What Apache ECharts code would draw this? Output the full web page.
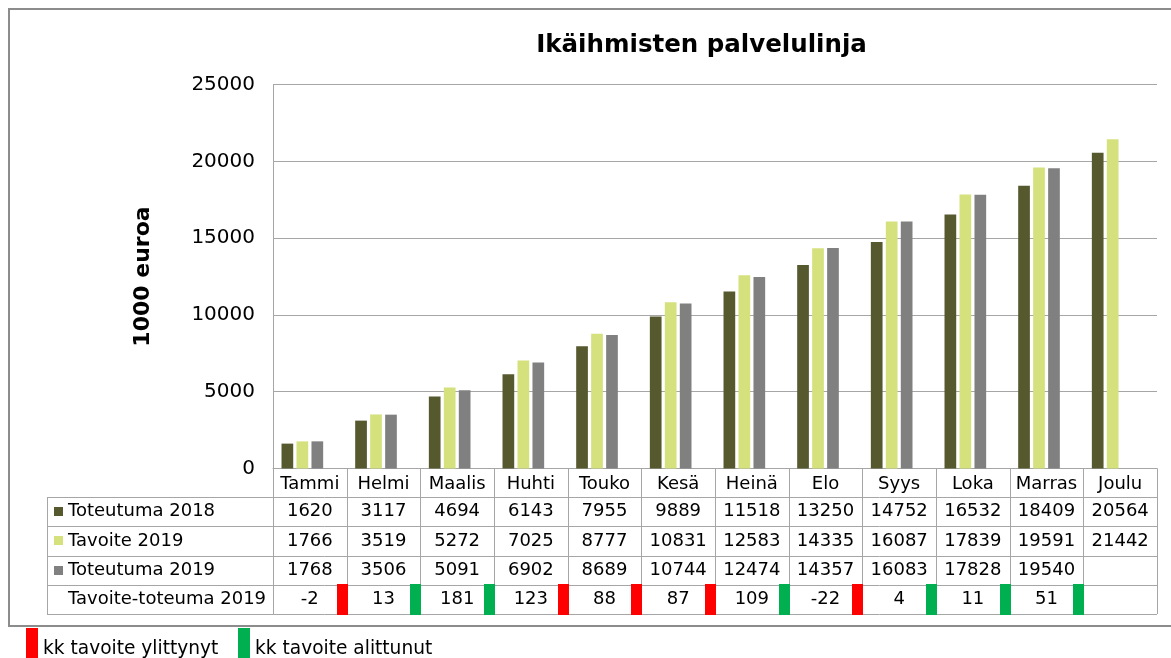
<!DOCTYPE html>
<html><head><meta charset="utf-8">
<script src="https://cdn.jsdelivr.net/npm/echarts@6/dist/echarts.min.js"></script>
<style>html,body{margin:0;padding:0;background:#fff}#c{width:1171px;height:658px}</style>
</head><body><div id="c"></div>
<script>
const chartTitle = 'Ikäihmisten palvelulinja';
const yAxisName = '1000 euroa';
const categories = ['Tammi','Helmi','Maalis','Huhti','Touko','Kesä','Heinä','Elo','Syys','Loka','Marras','Joulu'];
const seriesNames = ['Toteutuma 2018','Tavoite 2019','Toteutuma 2019','Tavoite-toteuma 2019'];
const toteutuma2018 = [1620,3117,4694,6143,7955,9889,11518,13250,14752,16532,18409,20564];
const tavoite2019 = [1766,3519,5272,7025,8777,10831,12583,14335,16087,17839,19591,21442];
const toteutuma2019 = [1768,3506,5091,6902,8689,10744,12474,14357,16083,17828,19540,null];
const erotus2019 = [-2,13,181,123,88,87,109,-22,4,11,51,null];
const tilanne = ['ylittynyt','alittunut','alittunut','ylittynyt','ylittynyt','ylittynyt','alittunut','ylittynyt','alittunut','alittunut','alittunut',null];
const yTicks = [0,5000,10000,15000,20000,25000];
const statusLabels = {ylittynyt: 'kk tavoite ylittynyt', alittunut: 'kk tavoite alittunut'};

const FONT = '"DejaVu Sans", Verdana, sans-serif';
const seriesColors = ['#56582E', '#D4E17D', '#808080', 'rgba(0,0,0,0)'];
const statusColors = {ylittynyt: '#FF0000', alittunut: '#00B050'};
const lineColor = '#A6A6A6';
const seriesData = [toteutuma2018, tavoite2019, toteutuma2019, erotus2019];

const chart = echarts.init(document.getElementById('c'), null, {renderer: 'canvas'});
const option = {
  animation: false,
  backgroundColor: '#fff',
  textStyle: {fontFamily: FONT},
  grid: {left: 273, right: 14, top: 84.5, bottom: 189.5, containLabel: false},
  xAxis: {
    type: 'category', data: categories,
    axisLine: {show: true, lineStyle: {color: lineColor, width: 1}},
    axisTick: {show: false},
    axisLabel: {interval: 0, fontSize: 18, color: '#000', margin: 7, fontFamily: FONT},
    splitLine: {show: false}
  },
  yAxis: {
    type: 'value', min: yTicks[0], max: yTicks[yTicks.length-1], interval: yTicks[1]-yTicks[0],
    name: yAxisName, nameLocation: 'middle', nameRotate: 90, nameGap: 119,
    nameTextStyle: {fontSize: 22, fontWeight: 'bold', color: '#000', fontFamily: FONT},
    axisLine: {show: true, lineStyle: {color: lineColor, width: 1}},
    axisTick: {show: false},
    axisLabel: {fontSize: 20, color: '#000', margin: 18, fontFamily: FONT, formatter: v => String(v)},
    splitLine: {show: true, lineStyle: {color: lineColor, width: 1}}
  },
  series: seriesNames.map((n, k) => ({
    name: n, type: 'bar', data: seriesData[k],
    barWidth: 11.7, barGap: '28%',
    itemStyle: {color: seriesColors[k]},
    silent: k === 3
  }))
};
chart.setOption(option);

// Build the data table under the category axis using the axis scale
const x0 = chart.convertToPixel({xAxisIndex: 0}, 0);
const x1 = chart.convertToPixel({xAxisIndex: 0}, 1);
const bw = x1 - x0;
const L = x0 - bw / 2;
const R = L + categories.length * bw;
const yZero = chart.convertToPixel({yAxisIndex: 0}, 0);
const tableLeft = 47;
const headerBottom = yZero + 28.5;
const rowH = 29.25;
const tableBottom = headerBottom + rowH * seriesNames.length;
const crisp = v => Math.round(v) + 0.5;

const g = [];
g.push({type: 'text', x: 701.5, y: 45.5, style: {text: chartTitle, font: 'bold 24.5px ' + FONT, fill: '#000', align: 'center', verticalAlign: 'middle'}});
// outer frame
g.push({type: 'rect', shape: {x: 9, y: 9, width: 1200, height: 617}, style: {fill: 'none', stroke: '#8C8C8C', lineWidth: 2}, z: 0});
// horizontal lines
for (let r = 0; r <= seriesNames.length; r++) {
  const y = crisp(headerBottom + r * rowH);
  g.push({type: 'line', shape: {x1: tableLeft, y1: y, x2: R, y2: y}, style: {stroke: lineColor, lineWidth: 1}});
}
// vertical lines
g.push({type: 'line', shape: {x1: crisp(tableLeft), y1: headerBottom, x2: crisp(tableLeft), y2: tableBottom}, style: {stroke: lineColor, lineWidth: 1}});
for (let i = 0; i <= categories.length; i++) {
  const x = crisp(L + i * bw);
  g.push({type: 'line', shape: {x1: x, y1: yZero, x2: x, y2: tableBottom}, style: {stroke: lineColor, lineWidth: 1}});
}
// row headers and values
seriesNames.forEach((n, r) => {
  const cy = headerBottom + r * rowH + rowH / 2;
  if (r < 3) {
    g.push({type: 'rect', shape: {x: 54, y: Math.round(cy - 4.5), width: 9, height: 9}, style: {fill: seriesColors[r]}});
  }
  g.push({type: 'text', x: 68, y: cy, style: {text: n, font: '18px ' + FONT, fill: '#000', align: 'left', verticalAlign: 'middle'}});
  seriesData[r].forEach((v, i) => {
    if (v === null || v === undefined) return;
    const cx = chart.convertToPixel({xAxisIndex: 0}, i);
    g.push({type: 'text', x: cx, y: cy, style: {text: String(v), font: '18px ' + FONT, fill: '#000', align: 'center', verticalAlign: 'middle'}});
  });
});
// status markers in last row
const lastRowTop = headerBottom + 3 * rowH;
tilanne.forEach((s, i) => {
  if (!s) return;
  const xr = L + (i + 1) * bw;
  g.push({type: 'rect', shape: {x: Math.round(xr) - 10, y: Math.round(lastRowTop) - 1, width: 11, height: 31}, style: {fill: statusColors[s]}, z: 10});
});
// legend for status markers
const legendKeys = ['ylittynyt', 'alittunut'];
const legendX = [26, 238];
legendKeys.forEach((k, j) => {
  g.push({type: 'rect', shape: {x: legendX[j], y: 628, width: 12, height: 32}, style: {fill: statusColors[k]}});
  g.push({type: 'text', x: legendX[j] + 17, y: 649.5, style: {text: statusLabels[k], font: '18.6px ' + FONT, fill: '#000', align: 'left', verticalAlign: 'middle'}});
});
chart.setOption({graphic: {elements: g}});
</script>
</body></html>
